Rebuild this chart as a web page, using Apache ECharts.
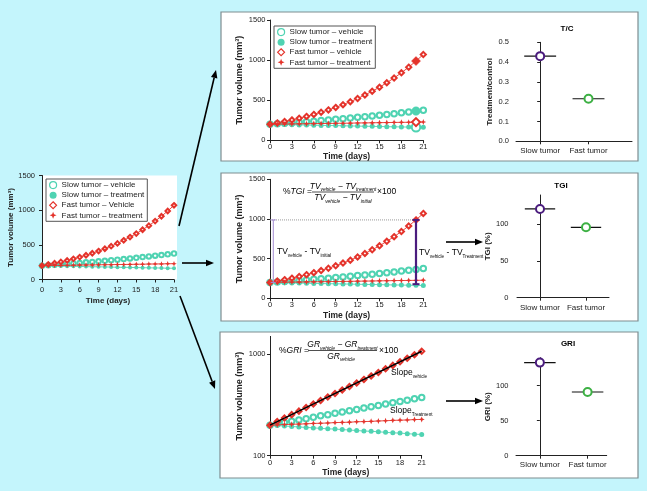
<!DOCTYPE html>
<html><head><meta charset="utf-8">
<script src="https://cdn.jsdelivr.net/npm/echarts@6/dist/echarts.min.js"></script>
<style>html,body{margin:0;padding:0;background:#c4f5fc;} #c{width:647px;height:491px;}</style>
</head><body><div id="c"></div>
<script>
// ---------- data ----------
const days = [0,1,2,3,4,5,6,7,8,9,10,11,12,13,14,15,16,17,18,19,20,21];
const slowVehicle   = [200,206,212,219,225,232,239,247,254,262,270,278,286,295,304,313,323,332,343,353,364,375];
const slowTreatment = [200,198,196,194,192,190,188,186,184,183,181,179,177,175,174,172,170,168,167,165,163,162];
const fastVehicle   = [200,217,235,254,275,298,323,350,379,410,444,481,521,565,612,662,718,777,842,912,988,1070];
const fastTreatment = [200,201,203,204,205,206,208,209,210,212,213,214,216,217,218,220,221,223,224,225,227,228];
const groups = ['Slow tumor', 'Fast tumor'];
const tcValues  = [0.43, 0.215];
const tgiValues = [121, 96];
const griValues = [133, 91];
const tgiBarBottom = 178;
const volumeTicks = [0, 500, 1000, 1500];
const logTicks = [100, 1000];
const pctTicks = [0, 50, 100];
const tcTicks = [0, 0.1, 0.2, 0.3, 0.4, 0.5];
const groupTicks = [0, 1];
const legendLeft = ['Slow tumor – vehicle', 'Slow tumor – treatment', 'Fast tumor – Vehicle', 'Fast tumor – treatment'];
const legendTop  = ['Slow tumor – vehicle', 'Slow tumor – treatment', 'Fast tumor – vehicle', 'Fast tumor – treatment'];

// ---------- styles ----------
const TEAL = '#4fd3b2', RED = '#e4332b', PURPLE = '#4b1c7e', GREEN = '#3cb043', AXIS = '#222', LPURPLE = '#6c3fa3';
const FONT = '"Liberation Sans", Arial, sans-serif';
const STAR = 'path://M0,-10L2.8,-2.8L10,0L2.8,2.8L0,10L-2.8,2.8L-10,0L-2.8,-2.8Z';
const plain = v => String(v);

const chart = echarts.init(document.getElementById('c'), null, {renderer: 'canvas'});

const grids = [
  {left: 42,  top: 175.5, width: 132,   height: 104},   // 0 left volume
  {left: 270, top: 20,    width: 153.3, height: 120.3}, // 1 top volume
  {left: 516, top: 42.3,  width: 116,   height: 99},    // 2 T/C
  {left: 270, top: 179.3, width: 153.3, height: 119},   // 3 TGI volume
  {left: 517, top: 195,   width: 92,    height: 102.7}, // 4 TGI
  {left: 270, top: 336.4, width: 151.7, height: 119.3}, // 5 GRI log volume
  {left: 516, top: 357.7, width: 90.7,  height: 98}     // 6 GRI
];

const axLine = {lineStyle: {color: AXIS, width: 1}};

function timeX(gi, nameGap, margin, nameSize) {
  return {type: 'value', gridIndex: gi, min: 0, max: 21, interval: 3,
    name: 'Time (days)', nameLocation: 'middle', nameGap,
    nameTextStyle: {fontWeight: 'bold', fontSize: nameSize, color: AXIS, fontFamily: FONT},
    axisLine: axLine, axisTick: {length: 3, lineStyle: {color: AXIS}},
    axisLabel: {fontSize: 7.5, color: AXIS, margin, fontFamily: FONT, formatter: plain}, splitLine: {show: false}};
}
function volY(gi, nameGap, margin, nameSize) {
  return {type: 'value', gridIndex: gi, min: 0, max: 1500, interval: 500,
    name: 'Tumor volume (mm³)', nameLocation: 'middle', nameGap,
    nameTextStyle: {fontWeight: 'bold', fontSize: nameSize, color: AXIS, fontFamily: FONT},
    axisLine: {show: true, lineStyle: {color: AXIS, width: 1}}, axisTick: {show: true, length: 3, lineStyle: {color: AXIS}},
    axisLabel: {fontSize: 7.5, color: AXIS, margin, fontFamily: FONT, customValues: volumeTicks, formatter: plain},
    splitLine: {show: false}};
}
function groupX(gi, max, margin) {
  return {type: 'value', gridIndex: gi, min: -0.5, max,
    axisLine: axLine, axisTick: {show: true, length: 3, lineStyle: {color: AXIS}, customValues: groupTicks},
    axisLabel: {fontSize: 8, color: AXIS, margin, fontFamily: FONT, customValues: groupTicks,
      formatter: v => groups[Math.round(v)]},
    splitLine: {show: false}};
}
function pctY(gi, name, min, max, interval, ticks, nameGap, margin, fmt) {
  return {type: 'value', gridIndex: gi, min, max, interval,
    name, nameLocation: 'middle', nameGap,
    nameTextStyle: {fontWeight: 'bold', fontSize: 8, color: AXIS, fontFamily: FONT},
    axisLine: {show: true, lineStyle: {color: AXIS, width: 1}},
    axisTick: {show: true, length: 3, lineStyle: {color: AXIS}, customValues: ticks},
    axisLabel: {fontSize: 7.5, color: AXIS, margin, fontFamily: FONT, customValues: ticks, formatter: fmt},
    splitLine: {show: false}};
}

const xAxes = [
  timeX(0, 17, 6, 8),
  timeX(1, 11, 3, 8.5),
  groupX(2, 1.9, 5.5),
  timeX(3, 13, 3, 8.5),
  groupX(4, 1.5, 6),
  timeX(5, 12.5, 3.5, 8.5),
  groupX(6, 1.4, 5.5)
];
const yAxes = [
  volY(0, 26, 7, 8),
  volY(1, 26, 4.5, 9),
  pctY(2, 'Treatment/control', 0, 0.5, 0.1, tcTicks, 22, 7, v => v.toFixed(1)),
  volY(3, 26, 4.5, 9),
  pctY(4, 'TGI (%)', 0, 140, 50, pctTicks, 20, 8.5, plain),
  {type: 'log', gridIndex: 5, min: 100, max: 1500, logBase: 10,
    name: 'Tumor volume (mm³)', nameLocation: 'middle', nameGap: 26,
    nameTextStyle: {fontWeight: 'bold', fontSize: 9, color: AXIS, fontFamily: FONT},
    axisLine: {show: true, lineStyle: {color: AXIS, width: 1}},
    axisTick: {show: true, length: 3, lineStyle: {color: AXIS}, customValues: logTicks},
    axisLabel: {fontSize: 7.5, color: AXIS, margin: 4.5, fontFamily: FONT, customValues: logTicks, formatter: plain},
    minorTick: {show: false}, splitLine: {show: false}},
  pctY(6, 'GRI (%)', 0, 140, 50, pctTicks, 21, 7.5, plain)
];

const defs = [
  {vals: slowVehicle,   color: TEAL, symbol: 'emptyCircle',  hi: 'circle'},
  {vals: slowTreatment, color: TEAL, symbol: 'circle',       hi: 'emptyCircle'},
  {vals: fastVehicle,   color: RED,  symbol: 'emptyDiamond', hi: 'diamond'},
  {vals: fastTreatment, color: RED,  symbol: STAR,           hi: 'emptyDiamond'}
];
function volSeries(gi, prefix, sizes, hiIndex, hiSizes) {
  return defs.map((d, k) => ({
    type: 'line', name: prefix + k, xAxisIndex: gi, yAxisIndex: gi,
    data: days.map((day, i) => {
      const p = {value: [day, d.vals[i]]};
      if (i === hiIndex) {
        p.symbol = d.hi; p.symbolSize = hiSizes[k];
        p.itemStyle = {borderWidth: d.hi.indexOf('empty') === 0 ? 1.5 : 0.5};
      }
      return p;
    }),
    symbol: d.symbol, symbolSize: sizes[k], showAllSymbol: true,
    lineStyle: {color: d.color, width: 0.9},
    itemStyle: {color: d.color, borderColor: d.color, borderWidth: d.symbol.indexOf('empty') === 0 ? 0.9 : 0},
    z: 3 + k
  }));
}

function groupSeries(gi, vals) {
  const out = [];
  vals.forEach((v, i) => {
    out.push({type: 'line', xAxisIndex: gi, yAxisIndex: gi, data: [[i - 0.33, v], [i + 0.33, v]],
      symbol: 'none', lineStyle: {color: '#111', width: 1.2}, z: 3});
    out.push({type: 'scatter', xAxisIndex: gi, yAxisIndex: gi, data: [[i, v]],
      symbol: 'circle', symbolSize: 8,
      itemStyle: {color: '#fff', borderColor: i === 0 ? PURPLE : GREEN, borderWidth: 2, opacity: 1}, z: 5});
  });
  return out;
}

const series = [].concat(
  volSeries(0, 'L', [4.5, 4, 4.5, 5.5], -1, []),
  volSeries(1, 'T', [5.5, 5, 5.2, 6], 20, [8.5, 8.5, 9, 8]),
  groupSeries(2, tcValues),
  volSeries(3, 'G', [5.5, 5, 5.2, 6], -1, []),
  [
    {type: 'line', xAxisIndex: 3, yAxisIndex: 3, data: [[0, fastVehicle[20]], [20, fastVehicle[20]]],
      symbol: 'none', lineStyle: {color: '#9a9a9a', type: 'dotted', width: 1}, z: 1},
    {type: 'line', xAxisIndex: 3, yAxisIndex: 3, data: [[0.45, fastVehicle[0]], [0.45, fastVehicle[20]]],
      symbol: 'rect', symbolSize: [5, 1], lineStyle: {color: '#a48bd3', width: 1},
      itemStyle: {color: '#a48bd3'}, z: 9},
    {type: 'line', xAxisIndex: 3, yAxisIndex: 3, data: [[20, fastVehicle[20]], [20, tgiBarBottom]],
      symbol: 'rect', symbolSize: [7, 2], lineStyle: {color: PURPLE, width: 2.2},
      itemStyle: {color: PURPLE}, z: 9}
  ],
  groupSeries(4, tgiValues),
  volSeries(5, 'R', [5.5, 5, 5.2, 6], -1, []),
  [
    {type: 'line', xAxisIndex: 5, yAxisIndex: 5, data: [[0, fastVehicle[0]], [21, fastVehicle[21]]],
      symbol: 'none', lineStyle: {color: '#000', width: 1.5}, z: 10}
  ],
  groupSeries(6, griValues)
);

function legendItems(prefix) {
  return [
    {name: prefix + '0', icon: 'circle', itemStyle: {color: '#fff', borderColor: TEAL, borderWidth: 1.2}},
    {name: prefix + '1', icon: 'circle', itemStyle: {color: TEAL, borderColor: TEAL, borderWidth: 0}},
    {name: prefix + '2', icon: 'diamond', itemStyle: {color: '#fff', borderColor: RED, borderWidth: 1.1}},
    {name: prefix + '3', icon: STAR, itemStyle: {color: RED, borderColor: RED, borderWidth: 0}}
  ];
}
const legendBase = {orient: 'vertical', itemWidth: 7, itemHeight: 7, itemGap: 2, padding: [2, 3, 2, 3],
  borderColor: '#555', borderWidth: 1, backgroundColor: '#fff',
  textStyle: {fontSize: 8, color: AXIS, fontFamily: FONT}, selectedMode: false};
const legends = [
  Object.assign({}, legendBase, {left: 46, top: 179, data: legendItems('L'),
    formatter: n => legendLeft[+n.slice(1)]}),
  Object.assign({}, legendBase, {left: 274, top: 26, data: legendItems('T'),
    formatter: n => legendTop[+n.slice(1)]})
];

// ---------- graphic (panels, arrows, text) ----------
const graphic = [];
function panel(x, y, w, h) {
  graphic.push({type: 'rect', z: -10, shape: {x, y, width: w, height: h},
    style: {fill: '#fff', stroke: '#7f8d90', lineWidth: 1.2}});
}
panel(221, 12, 417, 149);
panel(221, 173, 417, 148);
panel(220, 332, 418, 146);
graphic.push({type: 'rect', z: -10, shape: {x: 42, y: 175.5, width: 135, height: 104}, style: {fill: '#fff'}});

function arrow(x1, y1, x2, y2) {
  const a = Math.atan2(y2 - y1, x2 - x1), L = 8, W = 3.3;
  const bx = x2 - L * Math.cos(a), by = y2 - L * Math.sin(a);
  const px = -Math.sin(a) * W, py = Math.cos(a) * W;
  graphic.push({type: 'line', z: 100, shape: {x1, y1, x2: bx, y2: by}, style: {stroke: '#000', lineWidth: 1.6}});
  graphic.push({type: 'polygon', z: 100, shape: {points: [[x2, y2], [bx + px, by + py], [bx - px, by - py]]}, style: {fill: '#000'}});
}
arrow(179, 226, 216, 70);
arrow(182, 263, 214, 263);
arrow(180, 296, 215, 389);
arrow(446, 242, 483, 242);
arrow(446, 401, 483, 401);

function txt(x, y, text, align, rich, z) {
  graphic.push({type: 'text', z: z || 100, style: {x, y, text, align, verticalAlign: 'middle', rich,
    fontFamily: FONT}});
}
const richF = {
  n: {fontSize: 8.5, fontFamily: FONT, color: '#222', lineHeight: 12},
  m: {fontSize: 8.5, fontStyle: 'italic', fontFamily: FONT, color: '#222', lineHeight: 12},
  s: {fontSize: 4.8, fontStyle: 'italic', fontFamily: FONT, color: '#222', lineHeight: 5, verticalAlign: 'bottom'}
};
const richP = {
  p: {fontSize: 8.5, fontFamily: FONT, color: LPURPLE, lineHeight: 12},
  s: {fontSize: 4.6, fontFamily: FONT, color: LPURPLE, lineHeight: 5, verticalAlign: 'bottom'}
};
const richT = {t: {fontSize: 8, fontWeight: 'bold', fontFamily: FONT, color: '#222'}};

// titles
txt(567, 29, '{t|T/C}', 'center', richT);
txt(561, 186, '{t|TGI}', 'center', richT);
txt(568, 344, '{t|GRI}', 'center', richT);

// TGI formula
txt(283, 192, '{n|%}{m|TGI}{n| =}', 'left', richF);
txt(343, 186.5, '{m|TV}{s|vehicle}{m| − TV}{s|treatment}', 'center', richF);
graphic.push({type: 'line', z: 100, shape: {x1: 312, y1: 192, x2: 374, y2: 192}, style: {stroke: '#222', lineWidth: 0.8}});
txt(343, 198, '{m|TV}{s|vehicle}{m| − TV}{s|initial}', 'center', richF);
txt(377, 192, '{n|×100}', 'left', richF);

// TGI annotations
txt(277, 252, '{p|TV}{s|vehicle}{p| - TV}{s|initial}', 'left', richP);
txt(419, 253, '{p|TV}{s|vehicle}{p| - TV}{s|Treatment}', 'left', richP);

// GRI formula
txt(279, 351, '{n|%}{m|GRI}{n| =}', 'left', richF);
txt(342.5, 345, '{m|GR}{s|vehicle}{m| − GR}{s|treatment}', 'center', richF);
graphic.push({type: 'line', z: 100, shape: {x1: 308, y1: 350.5, x2: 377, y2: 350.5}, style: {stroke: '#222', lineWidth: 0.8}});
txt(341, 356.5, '{m|GR}{s|vehicle}', 'center', richF);
txt(379, 351, '{n|×100}', 'left', richF);

// slopes
txt(391, 373, '{p|Slope}{s|vehicle}', 'left', richP);
txt(390, 411, '{p|Slope}{s|Treatment}', 'left', richP);

chart.setOption({
  animation: false,
  backgroundColor: '#c4f5fc',
  grid: grids,
  xAxis: xAxes,
  yAxis: yAxes,
  legend: legends,
  series,
  graphic
});
</script></body></html>
